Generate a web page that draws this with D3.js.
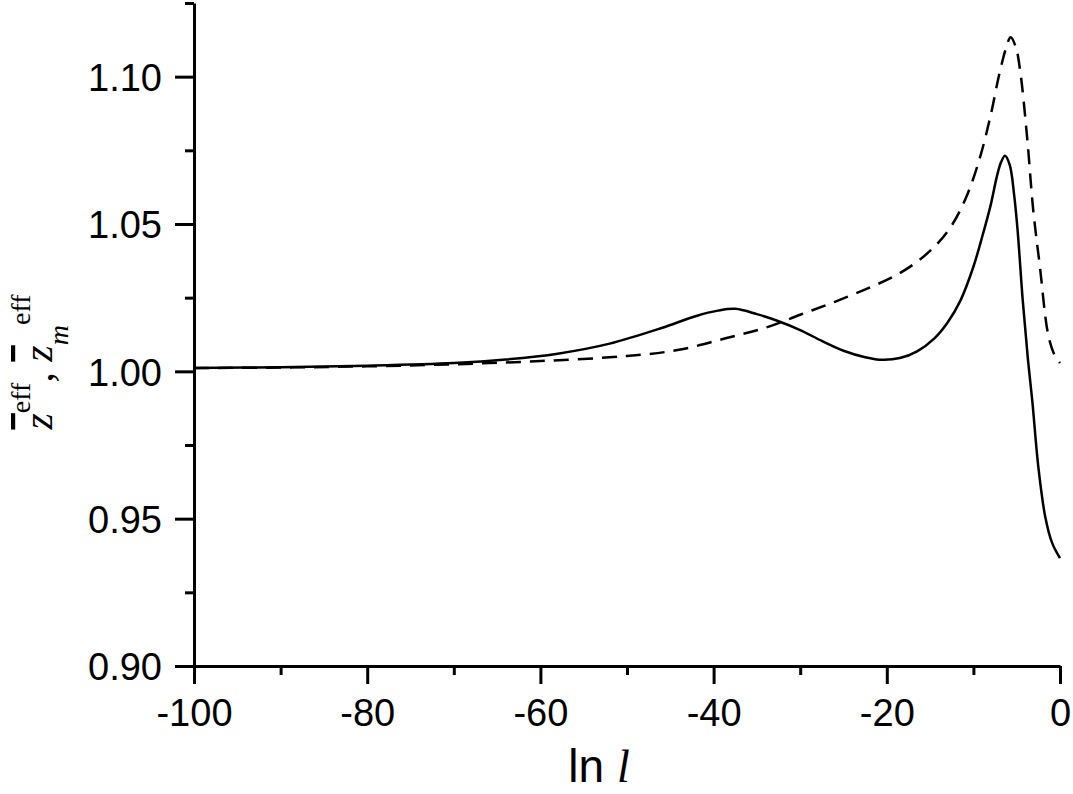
<!DOCTYPE html>
<html>
<head>
<meta charset="utf-8">
<script src="https://cdn.jsdelivr.net/npm/d3@7"></script>
<style>
  body { margin: 0; background: #fff; }
  svg { display: block; }
</style>
</head>
<body>
<div id="chart"></div>
<script>
// ln l values and z-eff (solid line)
const lnSolid = [-100, -90, -80, -70, -64, -58, -52, -46, -42, -39.5, -37.5, -35, -32.5, -30, -27.5, -25, -22.5, -20.5, -18.5, -16.5, -14.5, -13, -11.5, -10, -9, -8, -7.3, -6.8, -6.35, -5.8, -5.3, -4.9, -4.3, -3.7, -3.2, -2.5, -1.7, -0.9, 0];
const zSolid = [1.0011, 1.0014, 1.0019, 1.0028, 1.0040, 1.0060, 1.0094, 1.0147, 1.0188, 1.0206, 1.0212, 1.0194, 1.0170, 1.0140, 1.0103, 1.0070, 1.0048, 1.0039, 1.0045, 1.0068, 1.0112, 1.0165, 1.0240, 1.0355, 1.0455, 1.0565, 1.0660, 1.0710, 1.0732, 1.0700, 1.0600, 1.0480, 1.0240, 1.0040, 0.9900, 0.9675, 0.9506, 0.9417, 0.9366];

// z_m-eff (dashed line)
const lnDashed = [-100, -90, -80, -70, -60, -50, -44, -38.5, -34, -30, -26, -22, -19, -16.5, -14.2, -12.4, -10.7, -9.2, -8, -7, -6.2, -5.7, -5.1, -4.6, -3.8, -3.1, -2.3, -1.4, -0.7, 0];
const zDashed = [1.0011, 1.0013, 1.0017, 1.0024, 1.0035, 1.0052, 1.0073, 1.0113, 1.0148, 1.0192, 1.0236, 1.0284, 1.0325, 1.0372, 1.0432, 1.0500, 1.0600, 1.0730, 1.0870, 1.1010, 1.1100, 1.1134, 1.1100, 1.1020, 1.0795, 1.0550, 1.0350, 1.0130, 1.0060, 1.0028];

const xMajor = [-100, -80, -60, -40, -20, 0];
const xMinor = [-90, -70, -50, -30, -10];
const yMajor = [0.90, 0.95, 1.00, 1.05, 1.10];
const yMinor = [0.925, 0.975, 1.025, 1.075, 1.125];

const width = 1073, height = 794;

const svg = d3.select("#chart")
  .append("svg")
  .attr("width", width)
  .attr("height", height);

const x = d3.scaleLinear().domain([-100, 0]).range([194, 1060]);
const y = d3.scaleLinear().domain([0.9, 1.125]).range([666, 3]);

// curves
const line = d3.line()
  .x(d => x(d[0]))
  .y(d => y(d[1]))
  .curve(d3.curveCatmullRom.alpha(0.5));

svg.append("path")
  .datum(lnSolid.map((v, i) => [v, zSolid[i]]))
  .attr("d", line)
  .attr("fill", "none")
  .attr("stroke", "#000")
  .attr("stroke-width", 2.5);

svg.append("path")
  .datum(lnDashed.map((v, i) => [v, zDashed[i]]))
  .attr("d", line)
  .attr("fill", "none")
  .attr("stroke", "#000")
  .attr("stroke-width", 2.5)
  .attr("stroke-dasharray", "15,9");

// axes
const font = "'Liberation Sans', Arial, Helvetica, sans-serif";

const xAxis = svg.append("g")
  .attr("transform", `translate(0,${y(0.9)})`)
  .call(d3.axisBottom(x).tickValues(xMajor).tickSize(18).tickSizeOuter(0).tickPadding(15).tickFormat(d => String(d)));
svg.append("g")
  .attr("transform", `translate(0,${y(0.9)})`)
  .call(d3.axisBottom(x).tickValues(xMinor).tickSize(9).tickSizeOuter(0).tickFormat(""))
  .select(".domain").remove();

const yAxis = svg.append("g")
  .attr("transform", `translate(${x(-100)},0)`)
  .call(d3.axisLeft(y).tickValues(yMajor).tickSize(19).tickSizeOuter(0).tickPadding(13).tickFormat(d3.format(".2f")));
svg.append("g")
  .attr("transform", `translate(${x(-100)},0)`)
  .call(d3.axisLeft(y).tickValues(yMinor).tickSize(9).tickSizeOuter(0).tickFormat(""))
  .select(".domain").remove();

svg.selectAll(".domain, .tick line")
  .attr("stroke", "#000")
  .attr("stroke-width", 3);

svg.selectAll(".tick text")
  .attr("fill", "#000")
  .style("font-family", font)
  .style("font-size", "38px");

xAxis.selectAll(".tick text").attr("dy", "0.71em");
yAxis.selectAll(".tick text").attr("dy", "0.36em");

// x label
const xl = svg.append("text")
  .attr("x", 599)
  .attr("y", 782)
  .attr("text-anchor", "middle")
  .style("font-family", font)
  .style("font-size", "46px");
xl.append("tspan").text("ln ");
xl.append("tspan")
  .style("font-family", "'Liberation Serif', 'Times New Roman', serif")
  .style("font-style", "italic")
  .text("l");

// y label
const serif = "'Liberation Serif', 'Times New Roman', serif";
const yl = svg.append("text")
  .attr("transform", "translate(52,362) rotate(-90)")
  .attr("text-anchor", "middle")
  .style("font-family", serif)
  .style("font-size", "42px");
yl.append("tspan").style("font-style", "italic").style("text-decoration", "overline").text("z");
yl.append("tspan").attr("dy", -22).style("font-size", "28px").text("eff");
yl.append("tspan").attr("dy", 22).text(", ");
yl.append("tspan").style("font-style", "italic").style("text-decoration", "overline").text("z");
yl.append("tspan").attr("dy", 16).style("font-style", "italic").style("font-size", "28px").text("m");
yl.append("tspan").attr("dy", -38).style("font-size", "28px").text("eff");
</script>
</body>
</html>
